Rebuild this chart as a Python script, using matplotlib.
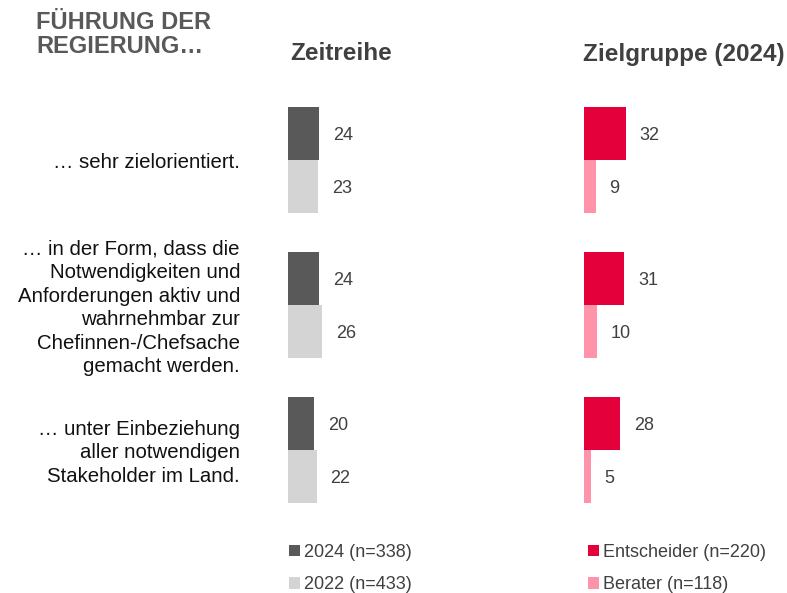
import matplotlib.pyplot as plt

plt.rcParams['font.family'] = ['Liberation Sans', 'DejaVu Sans']

# Daten
kategorien = [
    "… sehr zielorientiert.",
    "… in der Form, dass die\nNotwendigkeiten und\nAnforderungen aktiv und\nwahrnehmbar zur\nChefinnen-/Chefsache\ngemacht werden.",
    "… unter Einbeziehung\naller notwendigen\nStakeholder im Land.",
]
werte_2024 = [24, 24, 20]
werte_2022 = [23, 26, 22]
werte_entscheider = [32, 31, 28]
werte_berater = [9, 10, 5]

labels_links = ["2024 (n=338)", "2022 (n=433)"]
labels_rechts = ["Entscheider (n=220)", "Berater (n=118)"]

farben_links = ["#595959", "#d4d4d4"]
farben_rechts = ["#e4003a", "#ff93aa"]

W, H = 787, 593
fig = plt.figure(figsize=(W / 100, H / 100), dpi=100)

# Achsen in Pixeln: x-Start, y oben/unten
y_top, y_bot = 100, 510
ax_w = 190
px_per_unit = 1.30
bar_h = 53 / 145
ylim = ((y_bot - 160) / 145, (y_top - 160) / 145)


def make_ax(x0):
    ax = fig.add_axes([x0 / W, (H - y_bot) / H, ax_w / W, (y_bot - y_top) / H])
    ax.set_xlim(0, ax_w / px_per_unit)
    ax.set_ylim(*ylim)
    ax.axis("off")
    return ax


ax1 = make_ax(288)
ax2 = make_ax(584)

pos = list(range(len(kategorien)))
for ax, a, b, farben, labs in [
    (ax1, werte_2024, werte_2022, farben_links, labels_links),
    (ax2, werte_entscheider, werte_berater, farben_rechts, labels_rechts),
]:
    y_a = [p - bar_h / 2 for p in pos]
    y_b = [p + bar_h / 2 for p in pos]
    ba = ax.barh(y_a, a, height=bar_h, color=farben[0], label=labs[0])
    bb = ax.barh(y_b, b, height=bar_h, color=farben[1], label=labs[1])
    for bars, vals in [(ba, a), (bb, b)]:
        for r, v in zip(bars, vals):
            ax.annotate(str(v), (r.get_width(), r.get_y() + r.get_height() / 2),
                        xytext=(10, -1.5), textcoords="offset points",
                        ha="left", va="center", fontsize=13, color="#404040")

# Kategorien links
for p, k in zip(pos, kategorien):
    ax1.annotate(k, (0, p), xycoords=("axes fraction", "data"),
                 xytext=(-48 * 0.72, -2), textcoords="offset points",
                 ha="right", va="center", fontsize=14.7, color="#111111",
                 linespacing=1.3)

# Titel und Überschriften
fig.text(36 / W, 1 - 11 / H, "FÜHRUNG DER\nREGIERUNG…", ha="left", va="top",
         fontsize=17, fontweight="bold", color="#595959", linespacing=1.05)
fig.text(341 / W, 1 - 54 / H, "Zeitreihe", ha="center", va="center",
         fontsize=17.5, fontweight="bold", color="#404040")
fig.text(684 / W, 1 - 54 / H, "Zielgruppe (2024)", ha="center", va="center",
         fontsize=17.5, fontweight="bold", color="#404040")

# Legenden
for ax, x0 in [(ax1, 289), (ax2, 588)]:
    fig.legend(handles=ax.containers, labels=[c.get_label() for c in ax.containers],
               loc="upper left", bbox_to_anchor=(x0 / W, 1 - 544 / H),
               frameon=False, fontsize=13, labelcolor="#404040",
               handlelength=0.6, handleheight=0.6, handletextpad=0.25,
               labelspacing=0.85, borderpad=0, borderaxespad=0)

fig.savefig("out.png", dpi=100)
